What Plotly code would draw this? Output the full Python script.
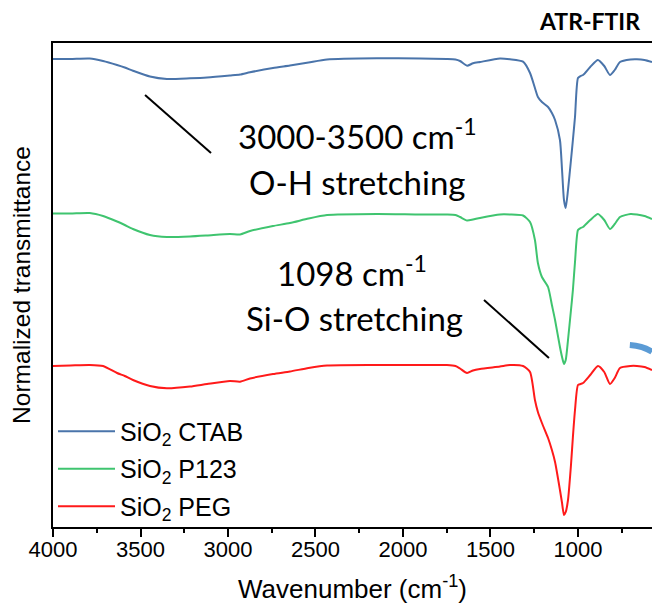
"""ATR-FTIR spectra of mesoporous SiO2 samples (CTAB, P123, PEG templates).

Stacked, offset transmittance curves with callouts for the O-H and Si-O bands.
"""

import plotly.graph_objects as go

# Shared wavenumber grid (cm-1)
WAVENUMBER = [
    4000, 3900, 3790, 3714, 3634, 3590, 3543, 3446, 3349, 3217,
    3120, 2989, 2931, 2874, 2743, 2646, 2540, 2434, 2149, 1900,
    1749, 1700, 1674, 1634, 1600, 1560, 1446, 1389, 1314, 1274,
    1246, 1229, 1206, 1171, 1149, 1131, 1103, 1091, 1080, 1070,
    1057, 1040, 1029, 1017, 1000, 985, 971, 930, 886, 850,
    817, 790, 760, 700, 663, 620, 577,
]

# Normalized transmittance, already offset for stacking
SIO2_CTAB = [
    4.68, 4.68, 4.685, 4.66, 4.62, 4.595, 4.563, 4.505, 4.48, 4.487,
    4.495, 4.515, 4.525, 4.547, 4.59, 4.615, 4.645, 4.675, 4.687, 4.685,
    4.68, 4.675, 4.66, 4.613, 4.637, 4.65, 4.685, 4.677, 4.653, 4.54,
    4.39, 4.30, 4.25, 4.20, 4.14, 4.07, 3.87, 3.57, 3.27, 3.19,
    3.37, 3.67, 3.87, 4.10, 4.49, 4.51, 4.52, 4.60, 4.67, 4.61,
    4.52, 4.57, 4.65, 4.675, 4.677, 4.67, 4.65,
]

SIO2_P123 = [
    3.135, 3.135, 3.14, 3.11, 3.055, 3.02, 2.98, 2.92, 2.90, 2.905,
    2.915, 2.93, 2.925, 2.96, 3.01, 3.04, 3.085, 3.12, 3.13, 3.125,
    3.125, 3.12, 3.10, 3.065, 3.075, 3.09, 3.125, 3.125, 3.115, 3.05,
    2.87, 2.64, 2.50, 2.40, 2.22, 2.07, 1.80, 1.70, 1.63, 1.67,
    1.87, 2.17, 2.37, 2.65, 2.97, 2.99, 3.00, 3.07, 3.13, 3.07,
    2.98, 3.03, 3.10, 3.13, 3.125, 3.11, 3.08,
]

SIO2_PEG = [
    1.61, 1.615, 1.62, 1.61, 1.54, 1.51, 1.47, 1.41, 1.387, 1.405,
    1.43, 1.46, 1.453, 1.485, 1.53, 1.555, 1.59, 1.615, 1.62, 1.62,
    1.62, 1.61, 1.585, 1.54, 1.565, 1.58, 1.605, 1.62, 1.61, 1.55,
    1.27, 1.15, 1.04, 0.89, 0.77, 0.65, 0.37, 0.24, 0.12, 0.15,
    0.27, 0.62, 0.90, 1.17, 1.42, 1.43, 1.44, 1.52, 1.61, 1.55,
    1.43, 1.49, 1.59, 1.61, 1.61, 1.60, 1.57,
]

SERIES = [
    ("SiO<sub>2</sub> CTAB", SIO2_CTAB, "#4a74aa"),
    ("SiO<sub>2</sub> P123", SIO2_P123, "#3fc46f"),
    ("SiO<sub>2</sub> PEG", SIO2_PEG, "#ff1a1a"),
]

X_TICKS = [4000, 3500, 3000, 2500, 2000, 1500, 1000]

# Callout leader lines (wavenumber, transmittance) start -> end
CALLOUT_LINES = [
    ((3474, 4.32), (3097, 3.74)),
    ((1537, 2.27), (1166, 1.69)),
]

# Callout text lines: (text, paper x, paper y)
CALLOUT_TEXT = [
    ("3000-3500 cm<sup>-1</sup>", 0.509, 0.812),
    ("O-H stretching", 0.509, 0.713),
    ("1098 cm<sup>-1</sup>", 0.499, 0.529),
    ("Si-O stretching", 0.504, 0.432),
]

AXIS_FONT = "Liberation Sans, Arial, sans-serif"
NOTE_FONT = "Lato, Carlito, Calibri, sans-serif"

fig = go.Figure()

for i, (name, values, color) in enumerate(SERIES):
    fig.add_trace(
        go.Scatter(
            x=WAVENUMBER,
            y=values,
            name=name,
            mode="lines",
            line=dict(color=color, width=2, shape="spline", smoothing=0.6),
            legendgroup=f"g{i}",
        )
    )

for (x0, y0), (x1, y1) in CALLOUT_LINES:
    fig.add_shape(
        type="line", xref="x", yref="y",
        x0=x0, y0=y0, x1=x1, y1=y1,
        line=dict(color="black", width=2),
    )

# cropped blue arc at the right edge of the original figure
fig.add_shape(
    type="path", xref="paper", yref="paper",
    path="M 0.963,0.376 Q 0.985,0.374 1.0,0.362",
    line=dict(color="#5b9bd5", width=6),
)

for text, x, y in CALLOUT_TEXT:
    fig.add_annotation(
        text=text,
        xref="paper", yref="paper", x=x, y=y,
        xanchor="center", yanchor="middle",
        showarrow=False,
        font=dict(family=NOTE_FONT, size=33, color="black"),
    )

fig.add_annotation(
    text="<b>ATR-FTIR</b>",
    xref="paper", yref="paper", x=0.895, y=1.045,
    xanchor="center", yanchor="middle",
    showarrow=False,
    font=dict(family=NOTE_FONT, size=23, color="black"),
)

fig.update_layout(
    width=652,
    height=606,
    margin=dict(l=53, r=0, t=43, b=79),
    plot_bgcolor="white",
    paper_bgcolor="white",
    showlegend=True,
    legend=dict(
        x=0.0, y=0.245, xanchor="left", yanchor="top",
        font=dict(family=AXIS_FONT, size=25, color="black"),
        bgcolor="rgba(0,0,0,0)",
        itemwidth=57,
        tracegroupgap=2,
    ),
    xaxis=dict(
        range=[4000, 577],
        tickvals=X_TICKS,
        ticks="outside",
        ticklen=8,
        tickwidth=2,
        tickcolor="black",
        minor=dict(dtick=250, ticks="outside", ticklen=4, tickwidth=2, tickcolor="black"),
        showline=True,
        linecolor="black",
        linewidth=2,
        mirror=True,
        showgrid=False,
        zeroline=False,
        automargin=False,
        ticklabelstandoff=-6,
        tickfont=dict(family=AXIS_FONT, size=22, color="black"),
        title=dict(
            text="Wavenumber (cm<sup>-1</sup>)",
            font=dict(family=AXIS_FONT, size=26, color="black"),
            standoff=18,
        ),
    ),
    yaxis=dict(
        range=[0, 4.84],
        showticklabels=False,
        ticks="",
        showline=True,
        linecolor="black",
        linewidth=2,
        showgrid=False,
        zeroline=False,
        automargin=False,
        title=dict(
            text="Normalized transmittance",
            font=dict(family=AXIS_FONT, size=24.5, color="black"),
            standoff=13,
        ),
    ),
)

# drop the default page margin so the figure sits at the window origin
fig.write_html(
    "out.html",
    config={"displayModeBar": False},
    post_script="document.body.style.margin='0px';",
)
